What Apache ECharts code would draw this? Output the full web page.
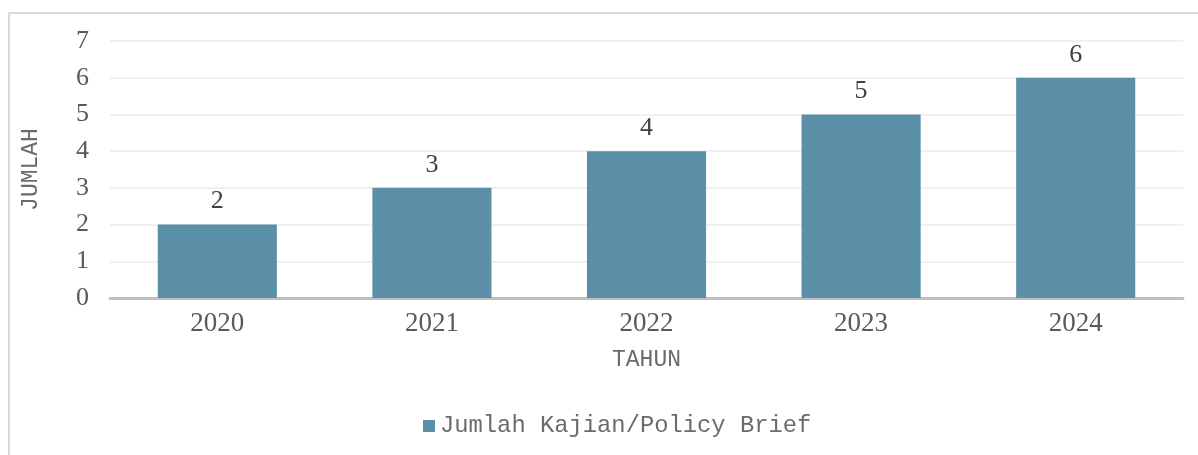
<!DOCTYPE html>
<html>
<head>
<meta charset="utf-8">
<script src="https://cdn.jsdelivr.net/npm/echarts@6/dist/echarts.min.js"></script>
<style>
  html, body { margin: 0; padding: 0; background: #fff; }
  #wrap { position: absolute; left: 8px; top: 12px; width: 1190px; height: 443px;
          border-left: 2px solid #d9d9d9; border-top: 2px solid #d9d9d9; box-sizing: border-box; }
  #main { position: absolute; left: 0; top: 0; width: 1198px; height: 455px; }
</style>
</head>
<body>
<div id="wrap"></div>
<div id="main"></div>
<script>
// data
var years = ['2020', '2021', '2022', '2023', '2024'];
var jumlah = [2, 3, 4, 5, 6];
var seriesName = 'Jumlah Kajian/Policy Brief';

var myChart = echarts.init(document.getElementById('main'));
var option = {
    animation: false,
    grid: { left: 110, right: 15, top: 41, bottom: 157 },
    legend: {
        data: [seriesName],
        top: 409,
        left: 418,
        itemWidth: 12,
        itemHeight: 12,
        itemGap: 5,
        icon: 'rect',
        textStyle: { fontFamily: 'Liberation Mono', fontSize: 23.8, color: '#6b6b6b' }
    },
    xAxis: {
        type: 'category',
        data: years,
        name: 'TAHUN',
        nameLocation: 'middle',
        nameGap: 50,
        nameTextStyle: { fontFamily: 'Liberation Mono', fontSize: 23, color: '#6b6b6b' },
        axisLine: { lineStyle: { color: '#bfbfbf', width: 3 } },
        axisTick: { show: false },
        axisLabel: { fontFamily: 'Liberation Serif', fontSize: 27, color: '#595959', margin: 12 }
    },
    yAxis: {
        type: 'value',
        min: 0,
        max: 7,
        interval: 1,
        name: 'JUMLAH',
        nameLocation: 'middle',
        nameGap: 68,
        nameTextStyle: { fontFamily: 'Liberation Mono', fontSize: 23, color: '#6b6b6b' },
        axisLine: { show: false },
        axisTick: { show: false },
        axisLabel: { fontFamily: 'Liberation Serif', fontSize: 26, color: '#595959', margin: 21 },
        splitLine: { lineStyle: { color: '#f0f0f0', width: 2 } }
    },
    series: [{
        name: seriesName,
        type: 'bar',
        data: jumlah,
        barWidth: '55.5%',
        itemStyle: { color: '#5b8fa7' },
        label: {
            show: true,
            position: 'top',
            distance: 10,
            fontFamily: 'Liberation Serif',
            fontSize: 26,
            color: '#404040'
        }
    }]
};
myChart.setOption(option);
</script>
</body>
</html>
